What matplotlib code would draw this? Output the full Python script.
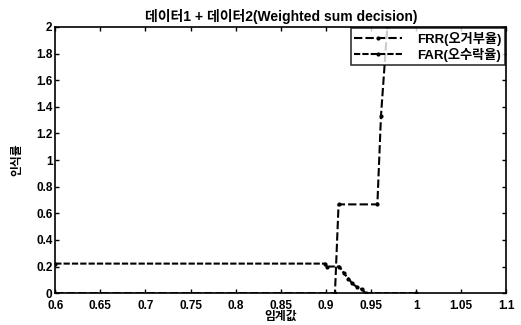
"""
FRR / FAR curves against the decision threshold for the weighted-sum fusion.
"""

import matplotlib
matplotlib.use('Agg')
import matplotlib.pyplot as plt

plt.rcParams['font.family'] = ['Liberation Sans', 'Noto Sans CJK KR']
plt.rcParams['font.weight'] = 'bold'

# FRR (false rejection rate, %) breakpoints
frr_thr = [0.600, 0.910, 0.914, 0.957, 0.961, 0.968, 0.975]
frr_val = [0.000, 0.000, 0.667, 0.667, 1.333, 2.000, 2.667]

# FAR (false acceptance rate, %) breakpoints
far_thr = [0.600, 0.899, 0.901, 0.915, 0.920, 0.925, 0.929, 0.934, 0.940, 0.944, 1.000]
far_val = [0.222, 0.222, 0.200, 0.200, 0.148, 0.110, 0.073, 0.048, 0.028, 0.000, 0.000]

x_ticks = [0.6, 0.65, 0.7, 0.75, 0.8, 0.85, 0.9, 0.95, 1.0, 1.05, 1.1]
x_labels = ['0.6', '0.65', '0.7', '0.75', '0.8', '0.85', '0.9', '0.95', '1', '1.05', '1.1']
y_ticks = [0, 0.2, 0.4, 0.6, 0.8, 1.0, 1.2, 1.4, 1.6, 1.8, 2.0]
y_labels = ['0', '0.2', '0.4', '0.6', '0.8', '1', '1.2', '1.4', '1.6', '1.8', '2']

fig = plt.figure(figsize=(5.21, 3.25), dpi=100)
ax = fig.add_axes([0.106, 0.098, 0.866, 0.819])

ax.plot(frr_thr, frr_val, color='black', linestyle=(0, (4, 1.5)), linewidth=1.5,
        marker='.', markersize=4, label='FRR(오거부율)')
ax.plot(far_thr, far_val, color='black', linestyle=(0, (3, 1)), linewidth=1.5,
        marker='.', markersize=4, label='FAR(오수락율)')

ax.set_xlim(0.6, 1.1)
ax.set_ylim(0, 2)
ax.set_xticks(x_ticks)
ax.set_xticklabels(x_labels)
ax.set_yticks(y_ticks)
ax.set_yticklabels(y_labels)
ax.tick_params(direction='in', top=True, right=True, length=3, width=1,
               labelsize=8.5, pad=2)
ax.tick_params(axis='x', pad=5)
for sp in ax.spines.values():
    sp.set_linewidth(1.2)

ax.set_title('데이터1 + 데이터2(Weighted sum decision)', fontsize=10,
             fontweight='bold', pad=4)
ax.set_xlabel('임계값', fontsize=8.5, fontweight='bold', labelpad=-1)
ax.set_ylabel('인식률', fontsize=8.5, fontweight='bold', labelpad=9)

leg = ax.legend(loc='upper right', fontsize=9.5, frameon=True, fancybox=False,
                borderaxespad=0.1, handlelength=3.6, borderpad=0.25,
                labelspacing=0.15, handletextpad=1.2, edgecolor='black')
leg.get_frame().set_linewidth(1.2)

fig.savefig('out.png', dpi=100)
